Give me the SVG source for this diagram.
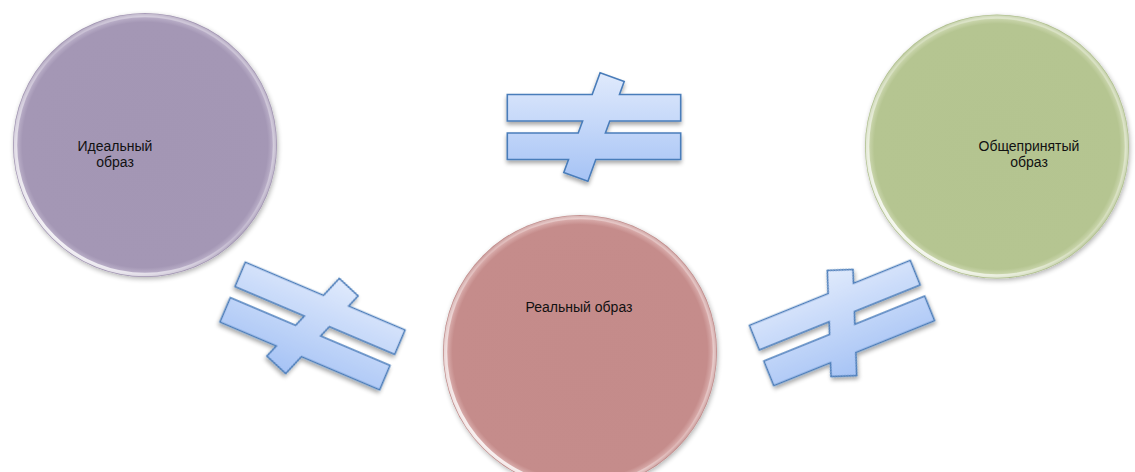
<svg xmlns="http://www.w3.org/2000/svg" width="1135" height="472" viewBox="0 0 1135 472">
<defs>
<style>
.lbl{font-family:"Liberation Sans",Arial,sans-serif;font-size:14px;fill:#111;text-anchor:middle}
.ne{fill:url(#neFill);stroke:#4A7DBA;stroke-width:1.6;stroke-linejoin:miter;filter:url(#neShadow)}
.rim{fill:none;stroke:url(#rimGrad);stroke-width:3.5}
</style>
<linearGradient id="neFill" x1="0" y1="0" x2="0" y2="1">
<stop offset="0" stop-color="#E0EAFC"/>
<stop offset="1" stop-color="#A6C3F5"/>
</linearGradient>
<linearGradient id="rimGrad" x1="0.1" y1="0.9" x2="0.9" y2="0.1">
<stop offset="0" stop-color="#fff" stop-opacity="0.9"/>
<stop offset="0.5" stop-color="#fff" stop-opacity="0.12"/>
<stop offset="0.8" stop-color="#fff" stop-opacity="0.35"/>
<stop offset="1" stop-color="#fff" stop-opacity="0.2"/>
</linearGradient>
<radialGradient id="gPurple" cx="0.5" cy="0.5" r="0.5">
<stop offset="0" stop-color="#A396B4"/>
<stop offset="0.93" stop-color="#A497B5"/>
<stop offset="0.975" stop-color="#BCB1CA"/>
<stop offset="1" stop-color="#9C8FAD"/>
</radialGradient>
<radialGradient id="gPink" cx="0.5" cy="0.5" r="0.5">
<stop offset="0" stop-color="#C48B8A"/>
<stop offset="0.93" stop-color="#C58C8B"/>
<stop offset="0.975" stop-color="#DBAFAE"/>
<stop offset="1" stop-color="#BB8483"/>
</radialGradient>
<radialGradient id="gGreen" cx="0.5" cy="0.5" r="0.5">
<stop offset="0" stop-color="#B4C490"/>
<stop offset="0.93" stop-color="#B5C591"/>
<stop offset="0.975" stop-color="#CDD8B0"/>
<stop offset="1" stop-color="#AABB87"/>
</radialGradient>
<filter id="circShadow" x="-10%" y="-10%" width="120%" height="125%">
<feGaussianBlur in="SourceAlpha" stdDeviation="2.5"/>
<feOffset dx="1" dy="2" result="b"/>
<feComponentTransfer><feFuncA type="linear" slope="0.3"/></feComponentTransfer>
<feMerge><feMergeNode/><feMergeNode in="SourceGraphic"/></feMerge>
</filter>
<filter id="neShadow" x="-10%" y="-10%" width="120%" height="130%">
<feGaussianBlur in="SourceAlpha" stdDeviation="2"/>
<feOffset dx="0" dy="2.5" result="b"/>
<feComponentTransfer><feFuncA type="linear" slope="0.35"/></feComponentTransfer>
<feMerge><feMergeNode/><feMergeNode in="SourceGraphic"/></feMerge>
</filter>
<polygon id="neq" points="-86.7,-32.5 -1.8,-32.5 6.1,-54.2 30.2,-45.4 25.5,-32.5 86.7,-32.5 86.7,-6 15.8,-6 11.4,6 86.7,6 86.7,32.5 1.8,32.5 -6.1,54.2 -30.2,45.4 -25.5,32.5 -86.7,32.5 -86.7,6 -15.8,6 -11.4,-6 -86.7,-6"/>
</defs>
<rect width="1135" height="472" fill="#fff"/>

<g id="node-ideal">
<circle cx="145" cy="145" r="132" fill="url(#gPurple)" filter="url(#circShadow)"/>
<circle class="rim" cx="145" cy="145" r="129.5"/>
<text class="lbl" x="115" y="150.5">Идеальный</text>
<text class="lbl" x="115" y="166.5">образ</text>
</g>

<g id="node-real">
<circle cx="580" cy="352" r="137" fill="url(#gPink)" filter="url(#circShadow)"/>
<circle class="rim" cx="580" cy="352" r="134.5"/>
<text class="lbl" x="579" y="311.5">Реальный образ</text>
</g>

<g id="node-common">
<circle cx="997" cy="146.5" r="132" fill="url(#gGreen)" filter="url(#circShadow)"/>
<circle class="rim" cx="997" cy="146.5" r="129.5"/>
<text class="lbl" x="1029" y="151">Общепринятый</text>
<text class="lbl" x="1029" y="166.5">образ</text>
</g>

<g id="connectors">
<g id="neq-top" transform="translate(594,127)"><use href="#neq" class="ne"/></g>
<g id="neq-left" transform="translate(312.5,326) rotate(23)"><use href="#neq" class="ne"/></g>
<g id="neq-right" transform="translate(842,323) rotate(-22)"><use href="#neq" class="ne"/></g>
</g>
</svg>
